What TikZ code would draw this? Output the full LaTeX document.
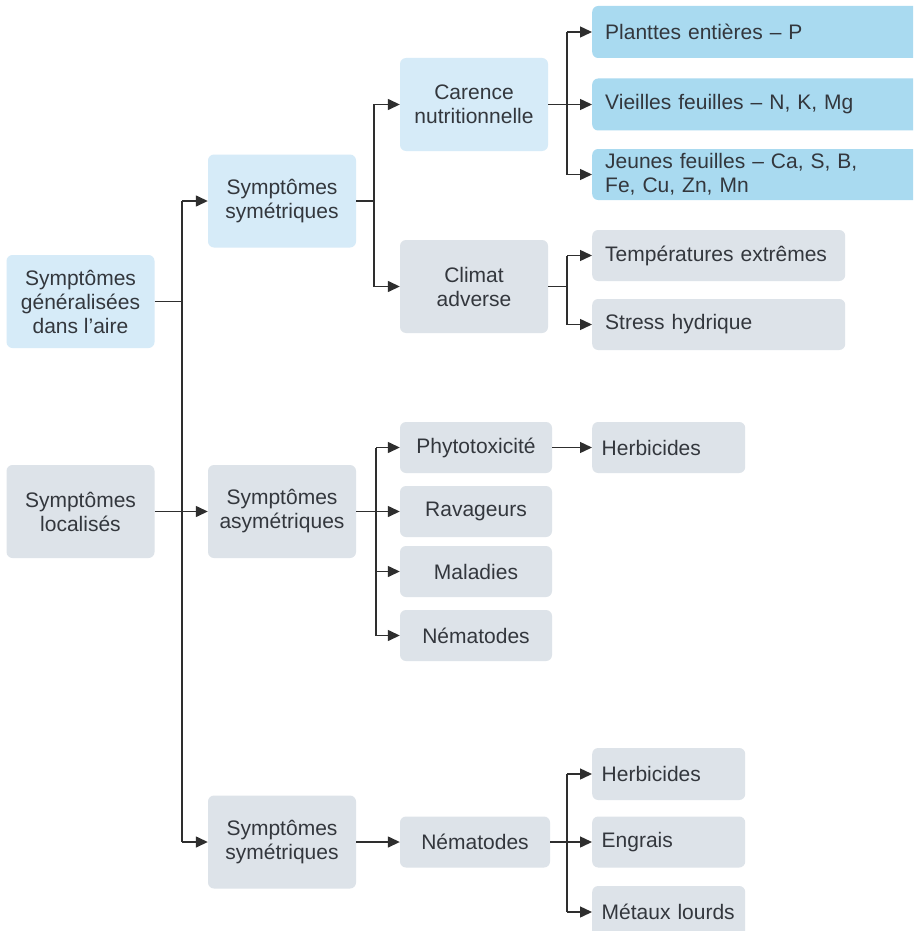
\documentclass[tikz,border=0pt]{standalone}
\usepackage{fontspec}
\setmainfont{Liberation Sans}
\usetikzlibrary{arrows.meta,calc}
\definecolor{lblue}{HTML}{D6EBF8}
\definecolor{dblue}{HTML}{A9DAF0}
\definecolor{lgrey}{HTML}{DDE3E9}
\definecolor{txt}{HTML}{33373D}
\definecolor{ln}{HTML}{2E2E2E}
\begin{document}
\begin{tikzpicture}[x=1pt,y=-1pt,
  box/.style={rounded corners=6pt,draw=none,text=txt,align=center,inner sep=0pt,
    font=\fontsize{21}{24}\selectfont},
  big/.style={box,minimum width=148pt,minimum height=93pt},
  mid/.style={box,minimum width=152pt,minimum height=51pt},
  leaf/.style={box,anchor=west,align=left,text width=#1,inner xsep=13pt,minimum height=51pt},
  sleaf/.style={box,anchor=west,align=left,text width=134pt,inner xsep=9.5pt,minimum height=51pt},
  bl/.style={fill=lblue},
  db/.style={fill=dblue},
  gr/.style={fill=lgrey},
  line/.style={draw=ln,line width=1.4pt},
  arr/.style={line,-{Triangle[length=12pt,width=11pt]}}]
\useasboundingbox (0,0) rectangle (913,931);
\clip (0,0) rectangle (913,931);
\fill[white] (0,0) rectangle (913,931);
% level 0
\node[big,bl] (A) at (80.5,301.5) {Symptômes\\généralisées\\dans l'aire};
\node[big,gr] (B) at (80.5,511.5) {Symptômes\\localisés};
% level 1
\node[big,bl] (S1) at (282,201) {Symptômes\\symétriques};
\node[big,gr] (SA) at (282,511.5) {Symptômes\\asymétriques};
\node[big,gr] (S2) at (282,842) {Symptômes\\symétriques};
% level 2
\node[big,bl] (Car) at (474,104.5) {Carence\\nutritionnelle};
\node[big,gr] (Cli) at (474,286.5) {Climat\\adverse};
\node[mid,gr] (Ph) at (476,447.5) {Phytotoxicité};
\node[mid,gr] (Ra) at (476,511.5) {Ravageurs};
\node[mid,gr] (Ma) at (476,571.5) {Maladies};
\node[mid,gr] (Ne) at (476,635.5) {Nématodes};
\node[mid,gr,minimum width=150pt] (N2) at (475,842) {Nématodes};
% leaves
\node[leaf=314pt,db,minimum height=52pt] (Pl) at (592,32) {Planttes entières – P};
\node[leaf=314pt,db,minimum height=52pt] (Vi) at (592,104.5) {Vieilles feuilles – N, K, Mg};
\node[leaf=314pt,db] (Je) at (592,174.5) {Jeunes feuilles – Ca, S, B,\\Fe, Cu, Zn, Mn};
\node[leaf=227pt,gr] (Te) at (592,255.5) {Températures extrêmes};
\node[leaf=227pt,gr] (St) at (592,324.5) {Stress hydrique};
\node[sleaf,gr] (He) at (592,447.5) {Herbicides};
\node[sleaf,gr,minimum height=52pt] (H2) at (592,774) {Herbicides};
\node[sleaf,gr] (En) at (592,842) {Engrais};
\node[sleaf,gr,minimum height=52pt] (Me) at (592,912) {Métaux lourds};
% junction columns
\coordinate (j1) at (182,0);
\coordinate (j2) at (374,0);
\coordinate (j3) at (567,0);
\coordinate (j4) at (376,0);
% trunk
\draw[line] (A.east) -- (A.east -| j1);
\draw[line] (j1 |- S1.west) -- (j1 |- S2.west);
\draw[arr] (j1 |- S1.west) -- (S1.west);
\draw[arr] (B.east) -- (SA.west);
\draw[arr] (j1 |- S2.west) -- (S2.west);
% S1 branch
\draw[line] (S1.east) -- (S1.east -| j2);
\draw[line] (j2 |- Car.west) -- (j2 |- Cli.west);
\draw[arr] (j2 |- Car.west) -- (Car.west);
\draw[arr] (j2 |- Cli.west) -- (Cli.west);
% Carence
\draw[line] (Car.east) -- (Car.east -| j3);
\draw[line] (j3 |- Pl.west) -- (j3 |- Je.west);
\draw[arr] (j3 |- Pl.west) -- (Pl.west);
\draw[arr] (j3 |- Vi.west) -- (Vi.west);
\draw[arr] (j3 |- Je.west) -- (Je.west);
% Climat
\draw[line] (Cli.east) -- (Cli.east -| j3);
\draw[line] (j3 |- Te.west) -- (j3 |- St.west);
\draw[arr] (j3 |- Te.west) -- (Te.west);
\draw[arr] (j3 |- St.west) -- (St.west);
% SA branch
\draw[line] (SA.east) -- (SA.east -| j4);
\draw[line] (j4 |- Ph.west) -- (j4 |- Ne.west);
\draw[arr] (j4 |- Ph.west) -- (Ph.west);
\draw[arr] (j4 |- Ra.west) -- (Ra.west);
\draw[arr] (j4 |- Ma.west) -- (Ma.west);
\draw[arr] (j4 |- Ne.west) -- (Ne.west);
\draw[arr] (Ph.east) -- (He.west);
% S2 branch
\draw[arr] (S2.east) -- (N2.west);
\draw[line] (N2.east) -- (N2.east -| j3);
\draw[line] (j3 |- H2.west) -- (j3 |- Me.west);
\draw[arr] (j3 |- H2.west) -- (H2.west);
\draw[arr] (j3 |- En.west) -- (En.west);
\draw[arr] (j3 |- Me.west) -- (Me.west);
\end{tikzpicture}
\end{document}
